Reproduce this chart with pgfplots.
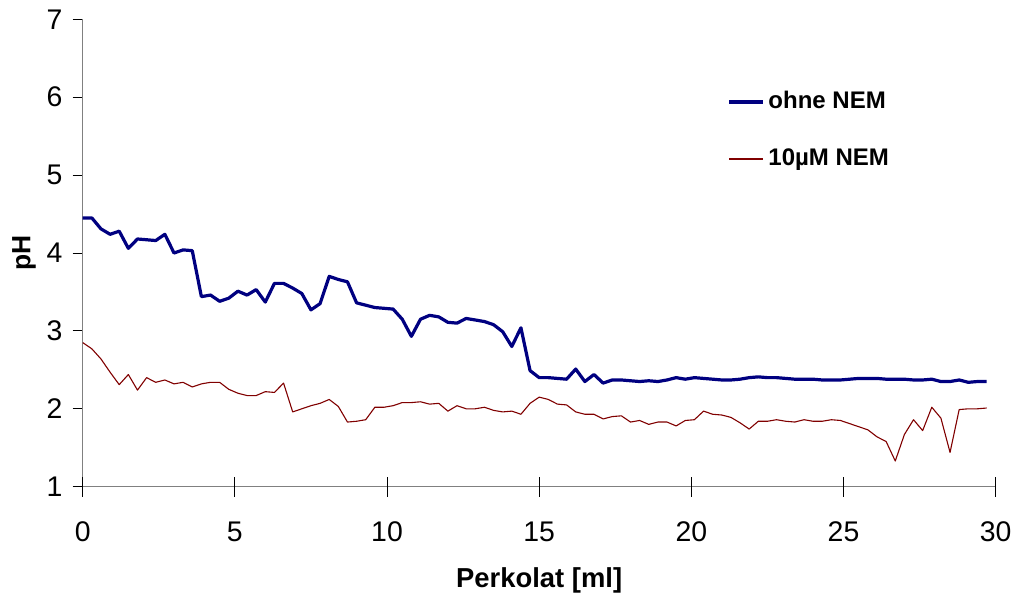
\documentclass[border=0pt]{standalone}
\usepackage{fontspec}
\setmainfont{Liberation Sans}
\usepackage{pgfplots}
\usepackage{pgfplotstable}
\pgfplotsset{compat=1.18}
\definecolor{navyline}{HTML}{000080}
\definecolor{maroonline}{HTML}{800000}
\definecolor{axisgray}{HTML}{808080}

\pgfplotstableread{
x ohne nem
0.0 4.45 2.85
0.3 4.45 2.77
0.6 4.31 2.64
0.9 4.24 2.47
1.2 4.28 2.31
1.5 4.06 2.44
1.8 4.18 2.24
2.1 4.17 2.40
2.4 4.16 2.34
2.7 4.24 2.37
3.0 4.00 2.32
3.3 4.04 2.34
3.6 4.03 2.28
3.9 3.44 2.32
4.2 3.46 2.34
4.5 3.38 2.34
4.8 3.42 2.25
5.1 3.51 2.20
5.4 3.46 2.17
5.7 3.53 2.17
6.0 3.37 2.22
6.3 3.61 2.21
6.6 3.61 2.33
6.9 3.55 1.96
7.2 3.48 2.00
7.5 3.27 2.04
7.8 3.35 2.07
8.1 3.70 2.12
8.4 3.66 2.03
8.7 3.63 1.83
9.0 3.36 1.84
9.3 3.33 1.86
9.6 3.30 2.02
9.9 3.29 2.02
10.2 3.28 2.04
10.5 3.15 2.08
10.8 2.93 2.08
11.1 3.15 2.09
11.4 3.20 2.06
11.7 3.18 2.07
12.0 3.11 1.97
12.3 3.10 2.04
12.6 3.16 2.00
12.9 3.14 2.00
13.2 3.12 2.02
13.5 3.08 1.98
13.8 2.99 1.96
14.1 2.80 1.97
14.4 3.04 1.93
14.7 2.49 2.07
15.0 2.40 2.15
15.3 2.40 2.12
15.6 2.39 2.06
15.9 2.38 2.05
16.2 2.51 1.96
16.5 2.35 1.93
16.8 2.44 1.93
17.1 2.33 1.87
17.4 2.37 1.90
17.7 2.37 1.91
18.0 2.36 1.83
18.3 2.35 1.85
18.6 2.36 1.80
18.9 2.35 1.83
19.2 2.37 1.83
19.5 2.40 1.78
19.8 2.38 1.85
20.1 2.40 1.86
20.4 2.39 1.97
20.7 2.38 1.93
21.0 2.37 1.92
21.3 2.37 1.89
21.6 2.38 1.82
21.9 2.40 1.74
22.2 2.41 1.84
22.5 2.40 1.84
22.8 2.40 1.86
23.1 2.39 1.84
23.4 2.38 1.83
23.7 2.38 1.86
24.0 2.38 1.84
24.3 2.37 1.84
24.6 2.37 1.86
24.9 2.37 1.85
25.2 2.38 1.81
25.5 2.39 1.77
25.8 2.39 1.73
26.1 2.39 1.64
26.4 2.38 1.58
26.7 2.38 1.33
27.0 2.38 1.67
27.3 2.37 1.86
27.6 2.37 1.72
27.9 2.38 2.02
28.2 2.35 1.88
28.5 2.35 1.44
28.8 2.37 1.99
29.1 2.34 2.00
29.4 2.35 2.00
29.7 2.35 2.01
}\datatable

\begin{document}
\begin{tikzpicture}
\begin{axis}[
  scale only axis,
  width=456.5pt, height=233.7pt,
  xmin=0, xmax=30, ymin=1, ymax=7,
  axis lines*=left,
  axis line style={draw=axisgray, line width=0.65pt},
  xtick={0,5,10,15,20,25,30},
  ytick={1,2,3,4,5,6,7},
  tick align=outside,
  major tick length=5pt,
  tick style={black, line width=0.5pt},
  /pgf/number format/assume math mode=true,
  ticklabel style={font=\fontsize{14.2}{17}\selectfont},
  yticklabel style={inner sep=0pt, xshift=-4.9pt},
  xticklabel style={inner sep=0pt, yshift=-12.5pt},
  xlabel={Perkolat [ml]},
  ylabel={pH},
  xlabel style={font=\bfseries\fontsize{13.7}{16}\selectfont, at={(axis description cs:0.5,-0.1996)}, anchor=center},
  ylabel style={font=\bfseries\fontsize{13.2}{16}\selectfont, at={(axis description cs:-0.0643,0.5)}, anchor=center},
  legend image code/.code={\draw[#1] (0pt,0pt) -- (17pt,0pt);},
  legend cell align=left,
  legend style={draw=none, fill=none,
    at={(axis description cs:0.706,0.8475)}, anchor=north west,
    inner sep=0pt, row sep=17.5pt, column sep=1.8pt,
    font=\bfseries\fontsize{12}{14}\selectfont,
    nodes={inner sep=0pt, text height=9pt, text depth=2pt}},
]
\addplot[navyline, line width=1.6pt, line join=round] table[x=x, y=ohne] {\datatable};
\addlegendentry{ohne NEM}
\addplot[maroonline, line width=0.55pt, line join=round] table[x=x, y=nem] {\datatable};
\addlegendentry{10µM NEM}
\end{axis}
\begin{axis}[
  scale only axis,
  width=456.5pt, height=233.7pt,
  xmin=0, xmax=30, ymin=1, ymax=7,
  axis x line*=bottom, hide y axis,
  axis line style={draw=none},
  xtick={0,5,10,15,20,25,30},
  xticklabels={},
  tick align=inside,
  major tick length=5pt,
  tick style={black, line width=0.5pt},
]
\end{axis}
\pgfresetboundingbox
\path (current axis.south west) ++(-41.35pt,-56.65pt) rectangle ++(509pt,300pt);
\end{tikzpicture}
\end{document}
